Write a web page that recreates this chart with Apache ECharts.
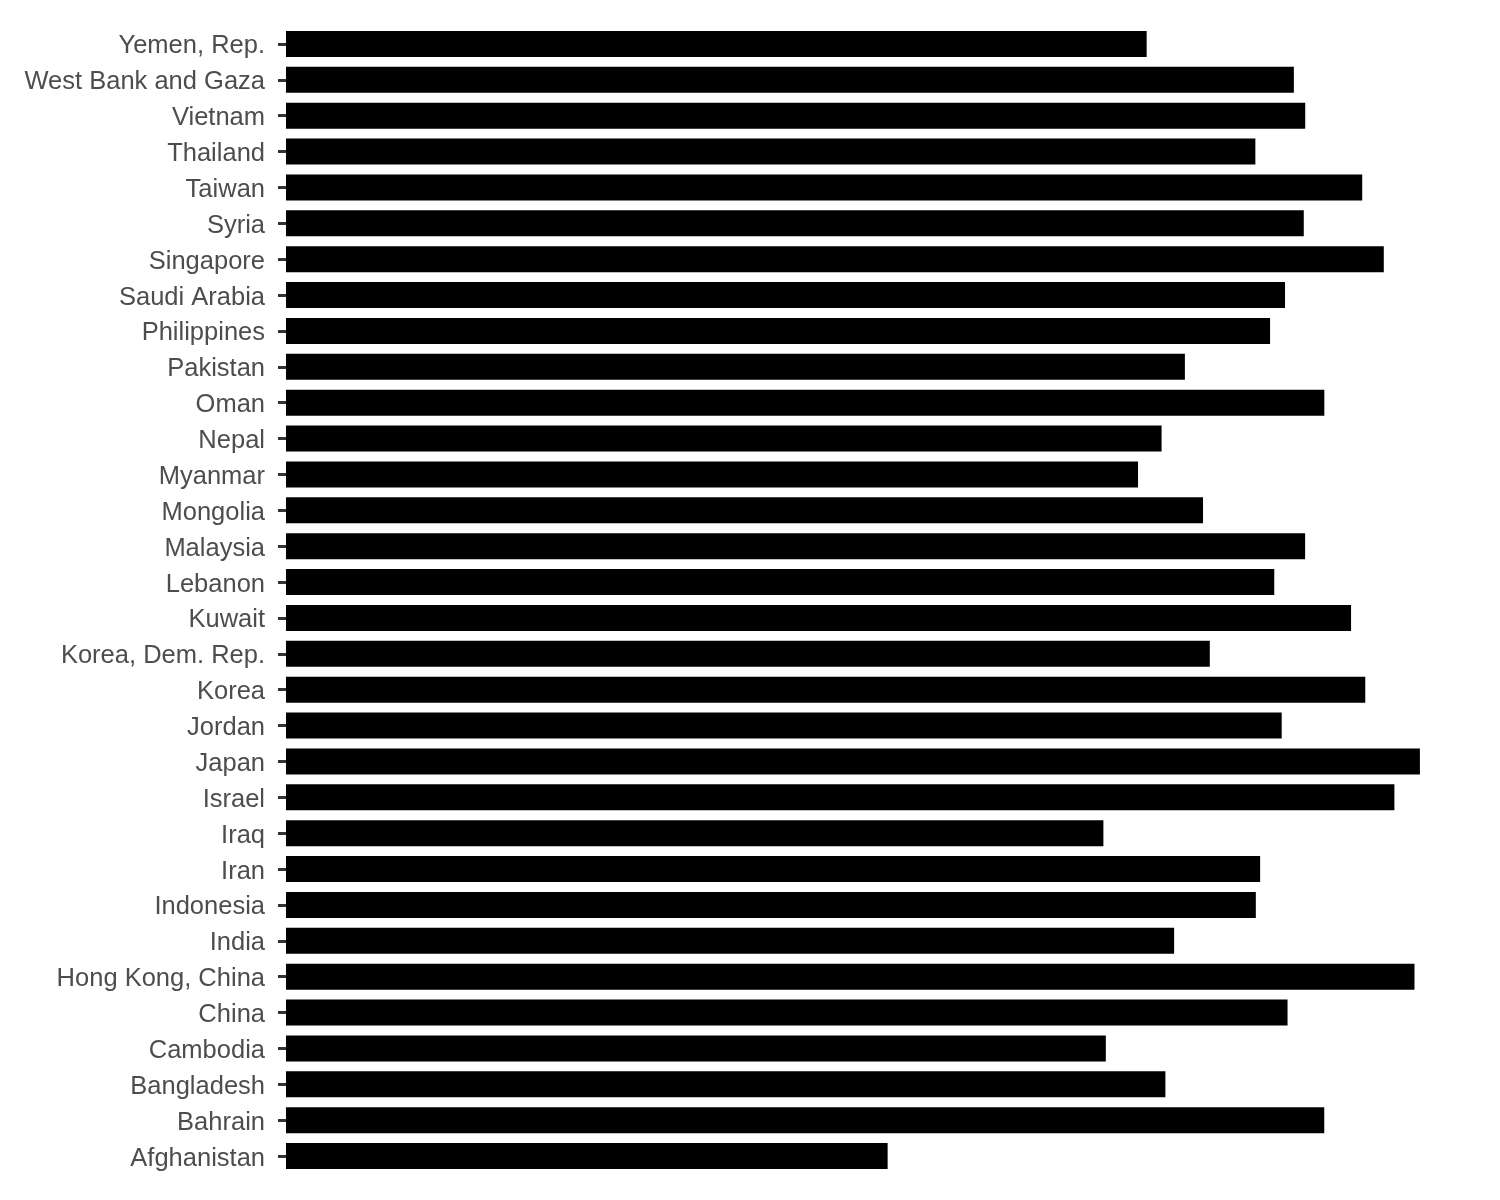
<!DOCTYPE html>
<html>
<head>
<meta charset="utf-8">
<script src="https://cdn.jsdelivr.net/npm/echarts@6/dist/echarts.min.js"></script>
<style>html,body{margin:0;padding:0;background:#fff}#c{width:1500px;height:1200px}</style>
</head>
<body>
<div id="c"></div>
<script>
const countries = ["Afghanistan","Bahrain","Bangladesh","Cambodia","China","Hong Kong, China","India","Indonesia","Iran","Iraq","Israel","Japan","Jordan","Korea","Korea, Dem. Rep.","Kuwait","Lebanon","Malaysia","Mongolia","Myanmar","Nepal","Oman","Pakistan","Philippines","Saudi Arabia","Singapore","Syria","Taiwan","Thailand","Vietnam","West Bank and Gaza","Yemen, Rep."];
const lifeExp = [43.828,75.635,64.062,59.723,72.961,82.208,64.698,70.650,70.964,59.545,80.745,82.603,72.535,78.623,67.297,77.588,71.993,74.241,66.803,62.069,63.785,75.640,65.483,71.688,72.777,79.972,74.143,78.400,70.616,74.249,73.422,62.698];

const chart = echarts.init(document.getElementById('c'));
chart.setOption({
  animation: false,
  backgroundColor: '#ffffff',
  grid: { left: 286, top: 26, width: 1190.6, height: 1148, containLabel: false },
  xAxis: {
    type: 'value', min: 0, max: 86.733,
    axisLine: { show: false }, axisTick: { show: false },
    axisLabel: { show: false }, splitLine: { show: false }
  },
  yAxis: {
    type: 'category', data: countries,
    axisLine: { show: false },
    axisTick: { show: true, length: 8, lineStyle: { color: '#333333', width: 3 }, alignWithLabel: true },
    axisLabel: {
      margin: 21,
      formatter: function (v) { return '{a|' + v + '}'; },
      rich: { a: { color: '#4d4d4d', fontSize: 25.5, fontFamily: 'Liberation Sans, Arial, sans-serif', padding: [5, 0, 0, 0] } }
    },
    splitLine: { show: false }
  },
  series: [{
    type: 'bar', data: lifeExp, barWidth: 26,
    itemStyle: { color: '#000000' }
  }]
});
</script>
</body>
</html>
